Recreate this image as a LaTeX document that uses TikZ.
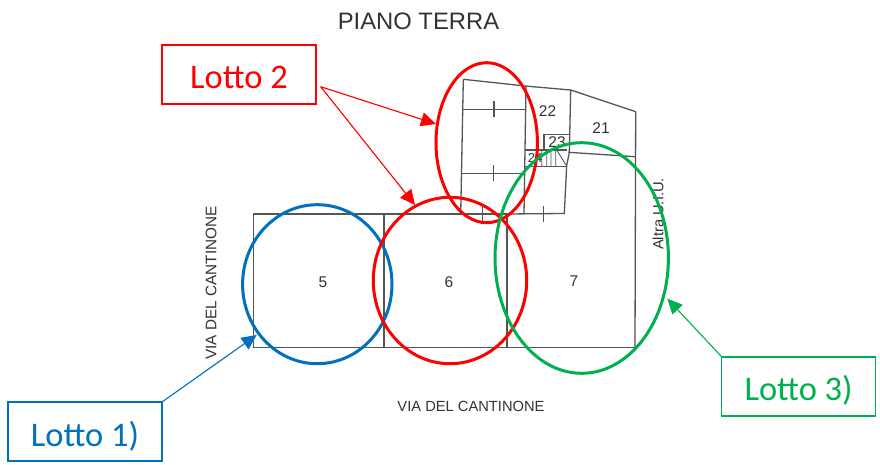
\documentclass[tikz,border=0pt]{standalone}
\usepackage{fontspec}
\setmainfont{Liberation Sans}
\newfontfamily\calib{Carlito}
\usetikzlibrary{shapes.geometric,arrows.meta}
\definecolor{lotred}{HTML}{FF0000}
\definecolor{lotblue}{HTML}{0070C0}
\definecolor{lotgreen}{HTML}{00B050}
\definecolor{wall}{HTML}{555555}
\definecolor{plantext}{HTML}{333333}
\tikzset{
  wallline/.style={draw=wall,line width=1.3pt},
  plantxt/.style={text=plantext,inner sep=0pt,font=\fontsize{14.7}{17}\selectfont},
  roomnum/.style={text=plantext,inner sep=0pt,font=\fontsize{15.5}{18}\selectfont},
  lotring/.style={ellipse,draw,line width=3pt,inner sep=0pt,outer sep=0pt},
  lotbox/.style={rectangle,draw,fill=white,inner sep=0pt,outer sep=0pt,minimum width=154pt,minimum height=59pt,
    text height=29pt,text depth=0pt,font=\calib\fontsize{34.5}{38}\selectfont},
  lotarrow/.style={line width=1.1pt,-{Triangle[length=15pt,width=14pt]}}
}
\begin{document}
\begin{tikzpicture}[x=1pt,y=-1pt]
\useasboundingbox (0,0) rectangle (880,465);
\fill[white] (0,0) rectangle (880,465);
% plan
\draw[wallline] (253.3,214) -- (507,214) (253.3,347.3) -- (635,347.3) (253.3,214) -- (253.3,347.3);
\draw[wallline] (384,214) -- (384,347.3);
\draw[wallline] (507,214) -- (507,347.3);
\draw[wallline] (635.7,111.7) -- (635,347.3);
\draw[wallline] (463.3,79.3) -- (525,86) -- (570.7,90) -- (635.7,111.7);
\draw[wallline] (463.3,79.3) -- (460.7,214);
\draw[wallline] (526,86) -- (524,214);
\draw[wallline] (570.7,90) -- (569.3,153) -- (566.7,165) -- (564.3,213.5) -- (507,214);
\draw[wallline] (462.3,109.3) -- (525,109.3) (494,100.7) -- (494,117.3);
\draw[wallline] (461.7,173.3) -- (525,173.3) (493.3,165) -- (493.3,180.7);
\draw[wallline] (543.3,205.7) -- (543.3,221.7);
\draw[wallline] (482.7,207) -- (482.7,221);
\draw[wallline] (568.3,152.3) -- (635,156.7);
\draw[wallline] (544,150) -- (544,134.5) -- (568.5,134.5);
\draw[wallline] (525,150) -- (567,150) (525,166.5) -- (566,166.5);
\draw[wallline,line width=.9pt] (541.7,150) -- (541.7,166) (546.7,150) -- (546.7,166) (551,150) -- (551,166) (555.7,150) -- (555.7,166)
  (556.7,150) -- (566,165);
% texts
\node[text=plantext,inner sep=0pt,font=\fontsize{23.8}{28}\selectfont] (title) at (418.5,21) {PIANO TERRA};
\node[plantxt] (streetb) at (471,406) {VIA DEL CANTINONE};
\node[plantxt,rotate=90,font=\fontsize{15.3}{18}\selectfont] (streetl) at (211,283) {VIA DEL CANTINONE};
\node[plantxt,rotate=90] (altra) at (658,214) {Altra U.I.U.};
\node[roomnum] (r5) at (323,282) {5};
\node[roomnum] (r6) at (449,282) {6};
\node[roomnum] (r7) at (574,281) {7};
\node[roomnum] (r22) at (547.5,111) {22};
\node[roomnum] (r21) at (601,128) {21};
\node[roomnum] (r23) at (557,142) {23};
\node[roomnum,font=\fontsize{13}{15}\selectfont] (r24) at (535,158) {24};
% rings
\node[lotring,draw=lotblue,minimum width=149.4pt,minimum height=159pt] (ringa) at (317.3,284.2) {};
\node[lotring,draw=lotred,minimum width=153.4pt,minimum height=166.4pt] (ringb) at (450,280.5) {};
\node[lotring,draw=lotred,minimum width=101.4pt,minimum height=160pt] (ringc) at (486.7,142.7) {};
\node[lotring,draw=lotgreen,minimum width=173.4pt,minimum height=230.6pt] (ringd) at (581.7,258) {};
% boxes
\node[lotbox,draw=lotred,line width=2pt,text=lotred] (lottwo) at (239,74.3) {Lotto 2};
\node[lotbox,draw=lotblue,line width=1.6pt,text=lotblue] (lotone) at (85,431.5) {Lotto 1)};
\node[lotbox,draw=lotgreen,line width=1.6pt,text=lotgreen] (lotthree) at (798.6,386.2) {Lotto 3)};
% connectors
\coordinate (fork) at (320.7,86.7);
\coordinate (tipc) at (436,124);
\coordinate (tipb) at (415,205);
\coordinate (tipa) at (256.7,335);
\coordinate (tipd) at (667.3,298.7);
\draw[lotarrow,draw=lotred,fill=lotred] (fork) -- (tipc);
\draw[lotarrow,draw=lotred,fill=lotred] (fork) -- (tipb);
\draw[lotarrow,draw=lotblue,fill=lotblue] (lotone.north east) -- (tipa);
\draw[lotarrow,draw=lotgreen,fill=lotgreen] (lotthree.north west) -- (tipd);
\end{tikzpicture}
\end{document}
